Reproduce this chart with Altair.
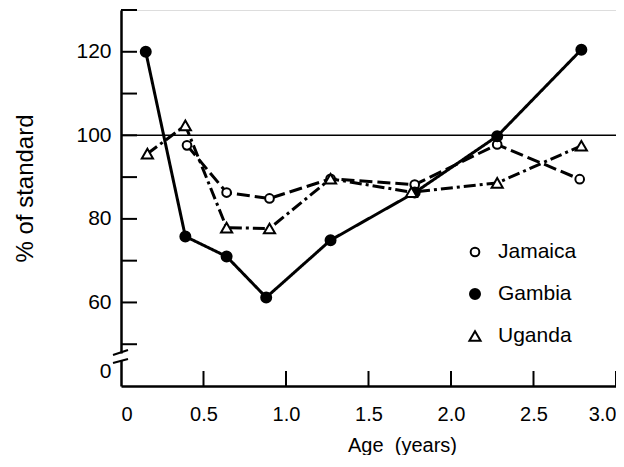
import altair as alt
import pandas as pd

countries = ["Jamaica", "Gambia", "Uganda"]

gambia_age = [0.15, 0.39, 0.64, 0.88, 1.27, 1.78, 2.28, 2.79]
gambia_pct = [120.0, 75.8, 71.0, 61.2, 74.9, 86.3, 99.8, 120.5]

jamaica_age = [0.40, 0.64, 0.90, 1.27, 1.78, 2.28, 2.78]
jamaica_pct = [97.6, 86.3, 84.9, 89.6, 88.2, 97.8, 89.5]

uganda_age = [0.16, 0.39, 0.64, 0.90, 1.27, 1.76, 2.28, 2.79]
uganda_pct = [95.6, 102.4, 77.9, 77.7, 89.6, 86.4, 88.6, 97.5]

y_ticks = [50, 60, 70, 80, 90, 100, 110, 120, 130]
y_labels = [43.5, 60, 80, 100, 120]
x_ticks = [0.5, 1.0, 1.5, 2.0, 2.5, 3.0]
x_labels = [0, 0.5, 1.0, 1.5, 2.0, 2.5, 3.0]
reference = [100]

rows = []
for name, ages, vals in [("Jamaica", jamaica_age, jamaica_pct),
                         ("Gambia", gambia_age, gambia_pct),
                         ("Uganda", uganda_age, uganda_pct)]:
    for a, v in zip(ages, vals):
        rows.append({"country": name, "age": a, "pct": v})
df = pd.DataFrame(rows)

W, H = 495, 376
FONT = "Liberation Sans"

xscale = alt.Scale(domain=[0, 3.0], nice=False, zero=False)
yscale = alt.Scale(domain=[40, 130], nice=False, zero=False)

x_axis = alt.Axis(values=x_labels, ticks=False, grid=False, domainColor="black",
                  domainWidth=2.5, labelFont=FONT, labelFontSize=20, labelColor="black",
                  labelPadding=18, labelFlush=True,
                  labelExpr="datum.value == 0 ? '0' : format(datum.value, '.1f')",
                  title="Age\u00a0 (years)", titleFont=FONT, titleFontSize=20,
                  titleFontWeight="normal", titleColor="black",
                  titleX=281, titleY=65, titleAlign="center", titleBaseline="alphabetic")
y_axis = alt.Axis(values=y_labels, ticks=False, grid=False, domainColor="black",
                  domainWidth=2.5, labelFont=FONT, labelFontSize=21, labelColor="black",
                  labelPadding=10,
                  labelExpr="datum.value < 50 ? '0' : datum.label",
                  title="% of standard", titleFont=FONT, titleFontSize=24,
                  titleFontWeight="normal", titleColor="black",
                  titleX=-89, titleY=178, titleAngle=270, titleAlign="center",
                  titleBaseline="alphabetic")

X = alt.X("age:Q", scale=xscale, axis=x_axis)
Y = alt.Y("pct:Q", scale=yscale, axis=y_axis)

shape_scale = alt.Scale(domain=countries, range=["circle", "circle", "triangle-up"])
fill_scale = alt.Scale(domain=countries, range=["white", "black", "white"])
size_scale = alt.Scale(domain=countries, range=[75, 125, 110])

lines = alt.Chart(df).mark_line(color="black", strokeWidth=3).encode(
    x=X, y=Y,
    detail="country:N",
    strokeDash=alt.StrokeDash("country:N", legend=None,
                              scale=alt.Scale(domain=countries,
                                              range=[[13, 5], [1, 0], [12, 4, 3, 4]])),
)

points = alt.Chart(df).mark_point(stroke="black", strokeWidth=2, opacity=1,
                                  fillOpacity=1).encode(
    x=X, y=Y,
    shape=alt.Shape("country:N", legend=None, scale=shape_scale),
    fill=alt.Fill("country:N", legend=None, scale=fill_scale),
    size=alt.Size("country:N", legend=None, scale=size_scale),
)

ref = alt.Chart(pd.DataFrame({"pct": reference})).mark_rule(
    color="black", strokeWidth=1.5).encode(y=alt.Y("pct:Q", scale=yscale, axis=y_axis))

yt = alt.Chart(pd.DataFrame({"pct": y_ticks})).mark_rule(
    color="black", strokeWidth=2).encode(
    y=alt.Y("pct:Q", scale=yscale, axis=y_axis), x=alt.value(0), x2=alt.value(16))

xt = alt.Chart(pd.DataFrame({"age": x_ticks})).mark_rule(
    color="black", strokeWidth=2).encode(
    x=alt.X("age:Q", scale=xscale, axis=x_axis), y=alt.value(H), y2=alt.value(H - 15))

# axis break decoration
gap = alt.Chart(pd.DataFrame({"k": [0]})).mark_rule(color="white", strokeWidth=6).encode(
    x=alt.value(0), y=alt.value(343.5), y2=alt.value(350))
slash1 = alt.Chart(pd.DataFrame({"k": [0]})).mark_rule(color="black", strokeWidth=2).encode(
    x=alt.value(-8), x2=alt.value(7), y=alt.value(345), y2=alt.value(340))
slash2 = alt.Chart(pd.DataFrame({"k": [0]})).mark_rule(color="black", strokeWidth=2).encode(
    x=alt.value(-8), x2=alt.value(7), y=alt.value(353), y2=alt.value(349))

main = alt.layer(ref, yt, xt, lines, points, gap, slash1, slash2)

# legend drawn as marks
leg_df = pd.DataFrame({"country": countries})
LY = alt.Y("country:N", axis=None,
           scale=alt.Scale(type="point", domain=countries, range=[242, 326], padding=0))
leg_pts = alt.Chart(leg_df).mark_point(stroke="black", strokeWidth=2, opacity=1,
                                       fillOpacity=1).encode(
    x=alt.value(354), y=LY,
    shape=alt.Shape("country:N", legend=None, scale=shape_scale),
    fill=alt.Fill("country:N", legend=None, scale=fill_scale),
    size=alt.Size("country:N", legend=None, scale=size_scale),
)
leg_txt = alt.Chart(leg_df).mark_text(align="left", baseline="middle", font=FONT,
                                      fontSize=21, color="black").encode(
    x=alt.value(377), y=LY, text="country:N")
leg = alt.layer(leg_pts, leg_txt)

chart = alt.layer(main, leg).resolve_scale(y="independent").properties(
    width=W, height=H,
    padding={"left": 113, "top": 2, "right": 0, "bottom": 69},
    autosize=alt.AutoSizeParams(type="none"),
).configure_view(stroke=None).configure(background="white")

chart.save("out.html", embed_options={"renderer": "svg", "actions": False})
